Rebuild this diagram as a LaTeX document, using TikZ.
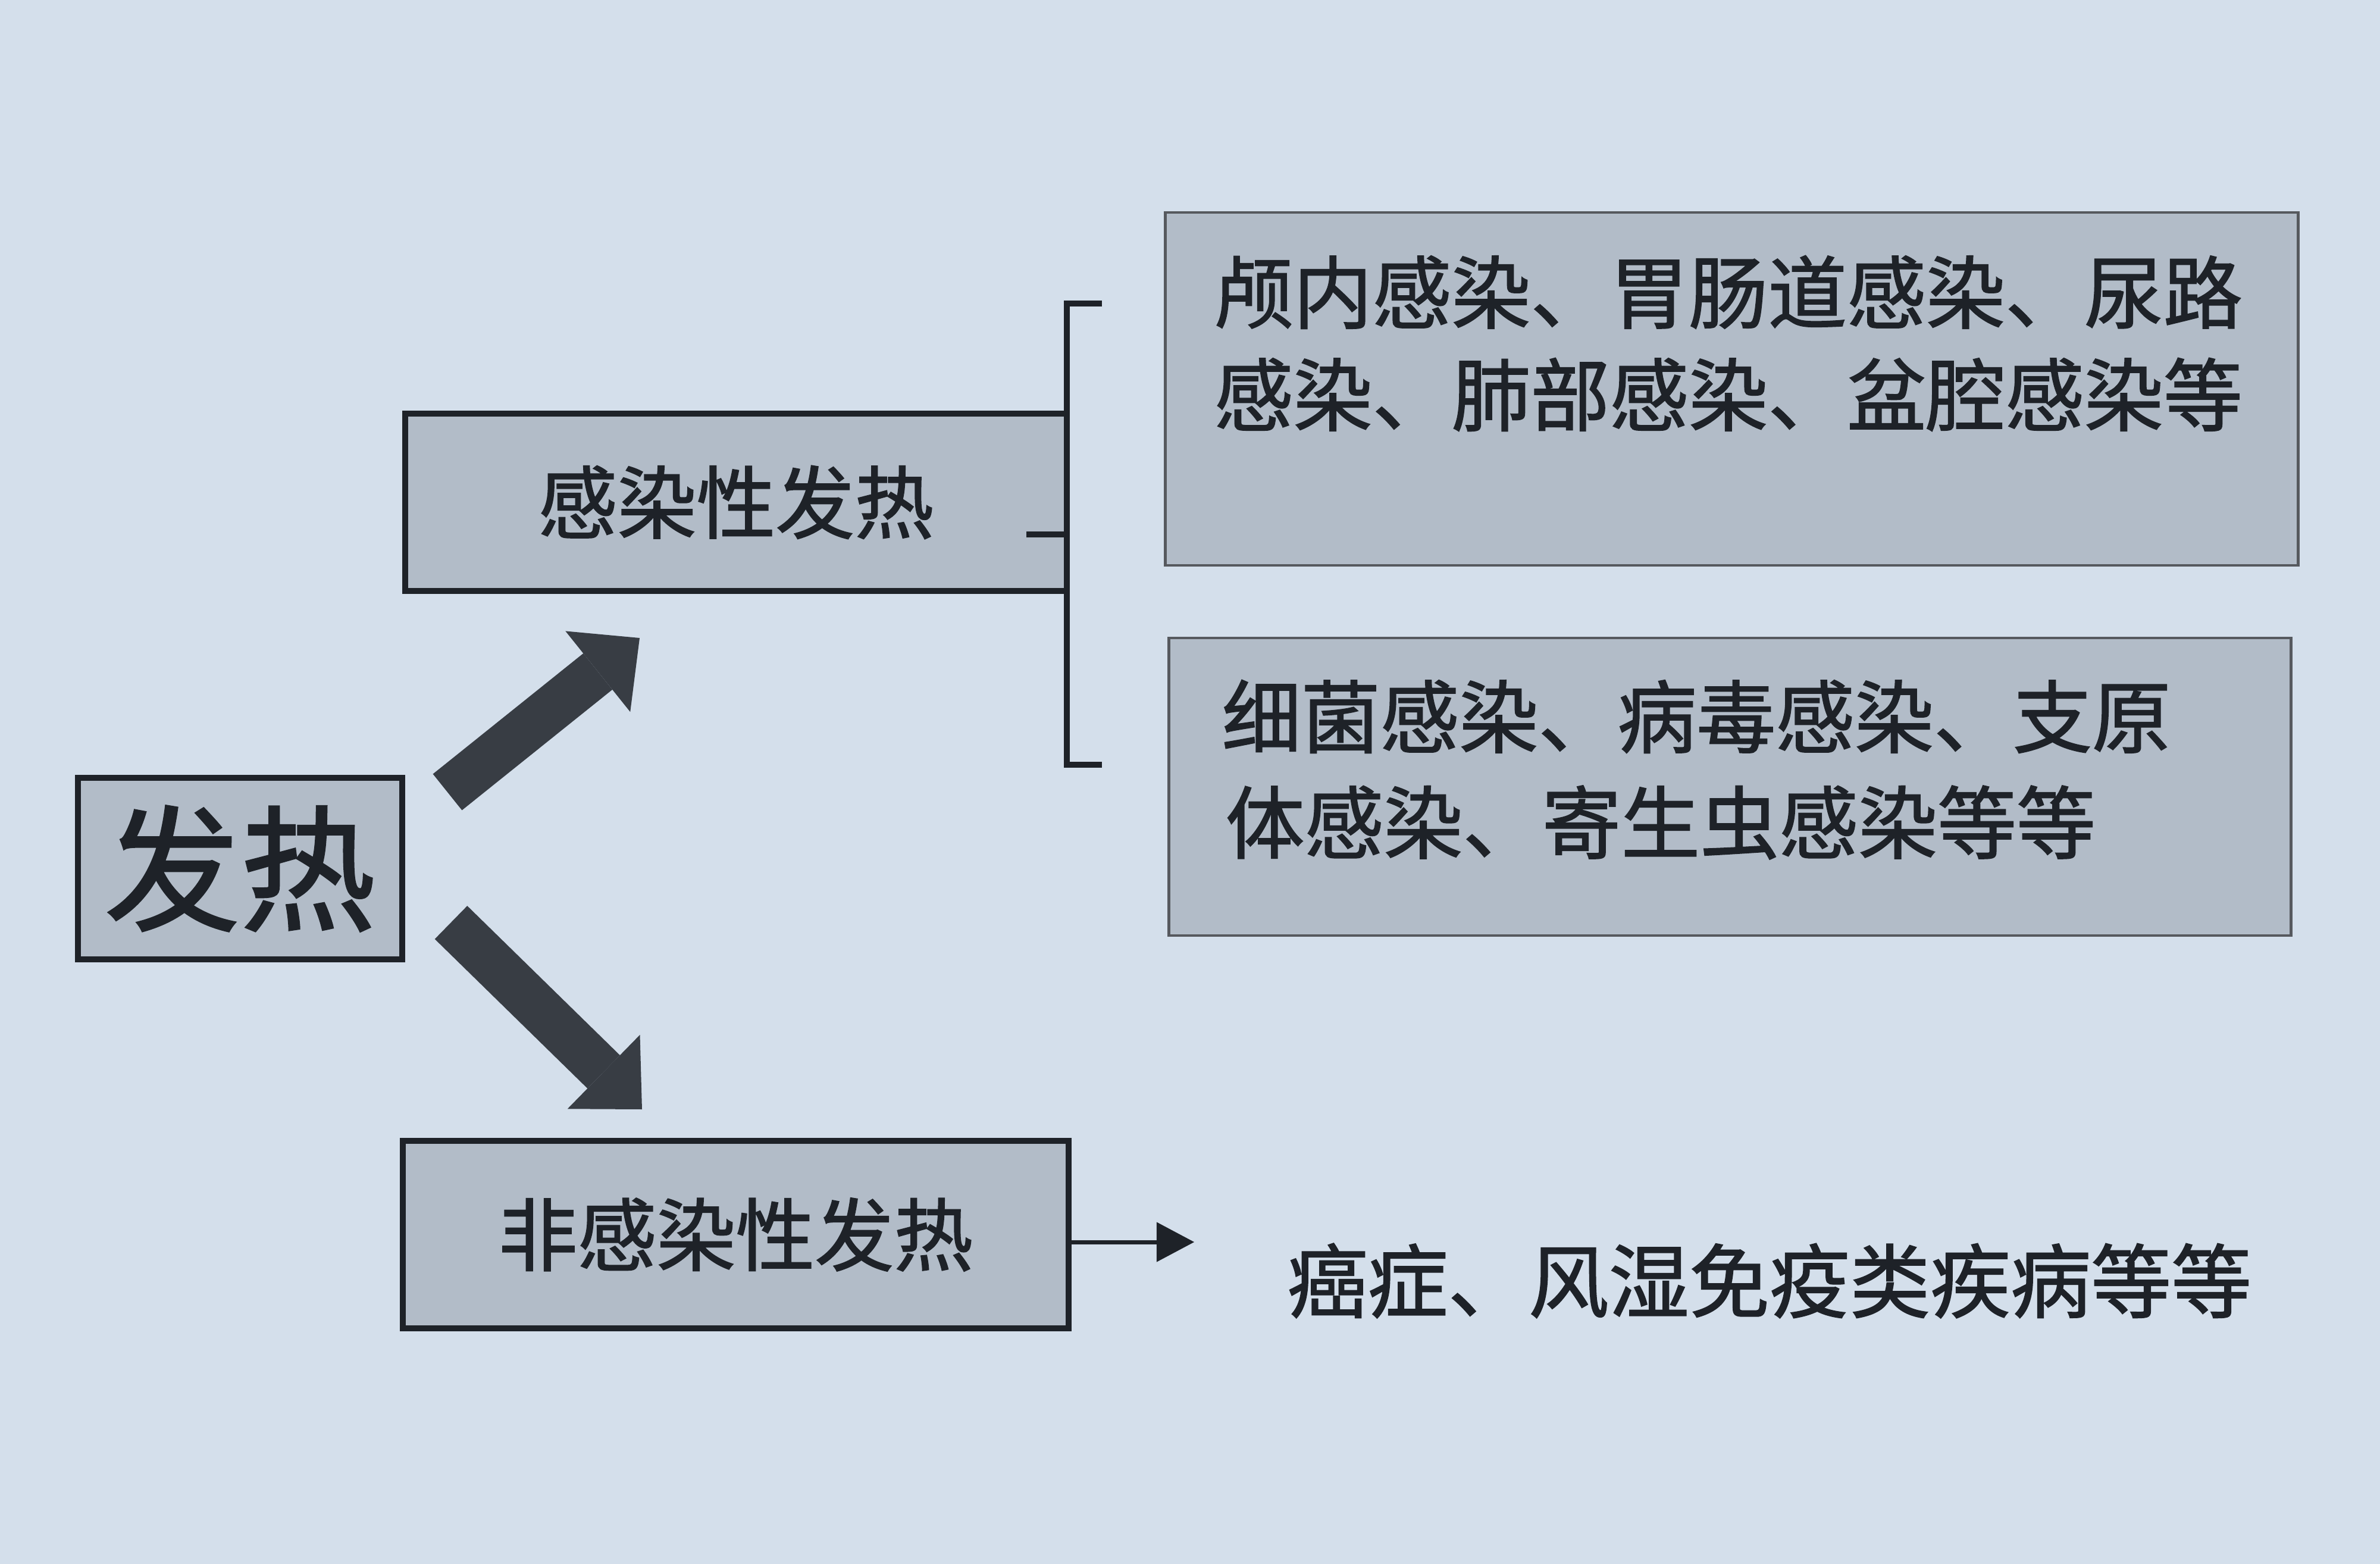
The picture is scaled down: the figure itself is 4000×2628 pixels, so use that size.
\documentclass[tikz,border=0pt]{standalone}
\usepackage{fontspec}
\setmainfont{Noto Sans CJK SC}
\newfontfamily\medcjk{Noto Sans CJK SC}[FakeBold=1.4]
\usetikzlibrary{arrows.meta}
\definecolor{paper}{RGB}{212,223,235}
\definecolor{screen}{RGB}{178,188,200}
\definecolor{ink}{RGB}{30,34,40}
\definecolor{arrowink}{RGB}{56,61,68}
\begin{document}
\begin{tikzpicture}[x=0.01cm,y=-0.01cm,
  headbox/.style={draw=ink,line width=2.8pt,fill=screen,inner sep=0pt,text=ink,font=\medcjk\fontsize{37.8}{45}\selectfont},
  infobox/.style={draw=ink!75,line width=1.2pt,fill=screen,inner sep=0pt},
  infotext/.style={anchor=west,inner sep=0pt,text=ink,font=\medcjk\fontsize{37.8}{45}\selectfont},
  bigarrow/.style={arrowink,line width=0.78cm,-{Triangle[length=0.9cm,width=1.74cm,line width=0pt]}},
  bracket/.style={ink,line width=2.6pt},
  thinarrow/.style={ink,line width=2pt,-{Triangle[length=0.63cm,width=0.67cm,line width=0pt]}}]
  \useasboundingbox (0,0) rectangle (4000,2628);
  \fill[paper] (0,0) rectangle (4000,2628);
  % boxes on the left
  \node[headbox,minimum width=5.45cm,minimum height=3.05cm,font=\medcjk\fontsize{64.8}{70}\selectfont] (fever) at (403.5,1459.5) {发热};
  \node[headbox,minimum width=11.12cm,minimum height=2.98cm] (infect) at (1237,844) {感染性发热};
  \node[headbox,minimum width=11.19cm,minimum height=3.15cm] (noninfect) at (1236.5,2074.5) {非感染性发热};
  % boxes on the right
  \node[infobox,minimum width=19.03cm,minimum height=5.93cm] (upper) at (2910.5,653.5) {};
  \node[infotext] (upperA) at (2040,491) {颅内感染、胃肠道感染、尿路};
  \node[infotext] (upperB) at (2040,663) {感染、肺部感染、盆腔感染等};
  \node[infobox,minimum width=18.85cm,minimum height=4.99cm] (lower) at (2907.5,1322) {};
  \node[infotext] (lowerA) at (2053,1204) {细菌感染、病毒感染、支原};
  \node[infotext] (lowerB) at (2059,1382) {体感染、寄生虫感染等等};
  \node[infotext,font=\medcjk\fontsize{38.4}{45}\selectfont] (others) at (2163,2152) {癌症、风湿免疫类疾病等等};
  % bracket
  \coordinate (bktop) at (1852,510);
  \coordinate (bkbot) at (1852,1285);
  \coordinate (bkstem) at (1725,898);
  \draw[bracket] (bktop) -| (1793,1285) -- (bkbot);
  \draw[bracket] (bkstem) -- (bkstem -| infect.east);
  % arrows
  \coordinate (upfrom) at (752,1331);
  \coordinate (upto) at (1075,1072);
  \coordinate (downfrom) at (758,1550);
  \coordinate (downto) at (1079,1864);
  \draw[bigarrow] (upfrom) -- (upto);
  \draw[bigarrow] (downfrom) -- (downto);
  \coordinate (smalltip) at (2007,2087);
  \draw[thinarrow] (noninfect.east |- smalltip) -- (smalltip);
\end{tikzpicture}
\end{document}
